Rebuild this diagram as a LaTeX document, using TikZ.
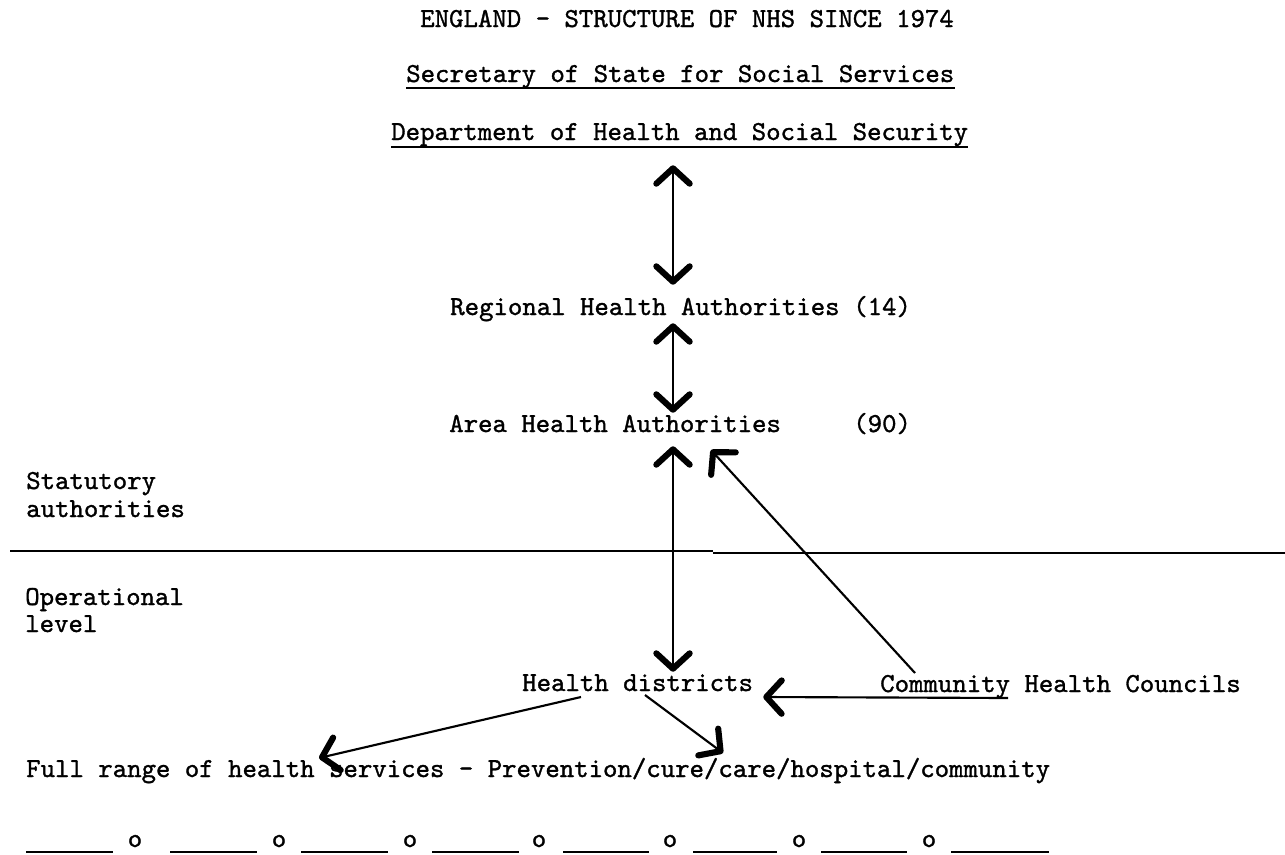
\documentclass[tikz,border=0pt]{standalone}
\usepackage{fontspec}
\newfontfamily\twfont{lmmono10-regular.otf}[FakeBold=1.2]
\usetikzlibrary{arrows.meta,calc}
\begin{document}
\begin{tikzpicture}[x=0.75pt,y=-0.75pt,
  txt/.style={anchor=base west,inner sep=0pt,text height=12pt,text depth=3pt,
    font=\twfont\fontsize{20.6pt}{24pt}\selectfont},
  shaft/.style={line width=1.6pt},
  tipped/.style={shaft,-{Straight Barb[length=11.5pt,width=25pt,line width=4.6pt,round]}},
  dbl/.style={shaft,{Straight Barb[length=11.5pt,width=25pt,line width=4.6pt,round]}-{Straight Barb[length=11.5pt,width=25pt,line width=4.6pt,round]}},
  rule/.style={line width=1.5pt}]
\useasboundingbox (0,0) rectangle (1285,854);
\coordinate (axis) at (673,0);

% headings
\node[txt] (title) at (420,27) {ENGLAND - STRUCTURE OF NHS SINCE 1974};
\node[txt] (sec) at (406,82) {Secretary of State for Social Services};
\draw[rule] ($(sec.base west)+(0,6)$) -- ($(sec.base east)+(0,6)$);
\node[txt] (dept) at (391,140) {Department of Health and Social Security};
\draw[rule] ($(dept.base west)+(0,7)$) -- ($(dept.base east)+(0,7)$);

% hierarchy
\node[txt] (reg) at (450,315) {Regional Health Authorities};
\node[txt] (reg14) at (853,315) {(14)};
\node[txt] (area) at (449,432) {Area Health Authorities};
\node[txt] (area90) at (853,432) {(90)};
\node[txt] (hd) at (522,691) {Health districts};
\node[txt] (chc) at (880,692) {Community Health Councils};
\node[txt] (full) at (26,777) {Full range of health services - Prevention/cure/care/hospital/community};

% side labels
\node[txt] (stat1) at (26,489) {Statutory};
\node[txt] (stat2) at (26,517) {authorities};
\node[txt] (op1) at (25,605) {Operational};
\node[txt] (op2) at (25,632) {level};

% divider
\draw[line width=1.3pt] (10,551) -- (713,551);
\draw[line width=1.3pt] (713,553) -- (1285,553);

% connectors
\draw[dbl,shorten <=15.75pt,shorten >=10.5pt] (dept.south -| axis) -- (reg.north -| axis);
\draw[dbl,shorten <=3pt,shorten >=2.25pt] (reg.south -| axis) -- (area.north -| axis);
\draw[dbl,shorten <=7.5pt,shorten >=2.25pt] (area.south -| axis) -- (hd.north -| axis);
\draw[tipped] ($(chc.base west)+(35,-19)$) -- ($(area.base west)+(262,18)$);
\draw[tipped] ($(chc.base west)+(128,6)$) -- ($(hd.base east)+(10,6)$);
\draw[tipped] ($(hd.base west)+(59,6)$) -- ($(full.base west)+(293,-19)$);
\draw[tipped] ($(hd.base west)+(123,4)$) -- ($(full.base west)+(697,-24)$);

% bottom row
\foreach \a/\b in {26/113,170/257,301/388,432/519,563/649,693/777,821/907,951/1049}
  \draw[rule] (\a,852) -- (\b,852);
\foreach \x [count=\i] in {135,279,410,539,670,799,929}
  \node[txt,anchor=base] (o\i) at (\x,847) {o};
\end{tikzpicture}
\end{document}
